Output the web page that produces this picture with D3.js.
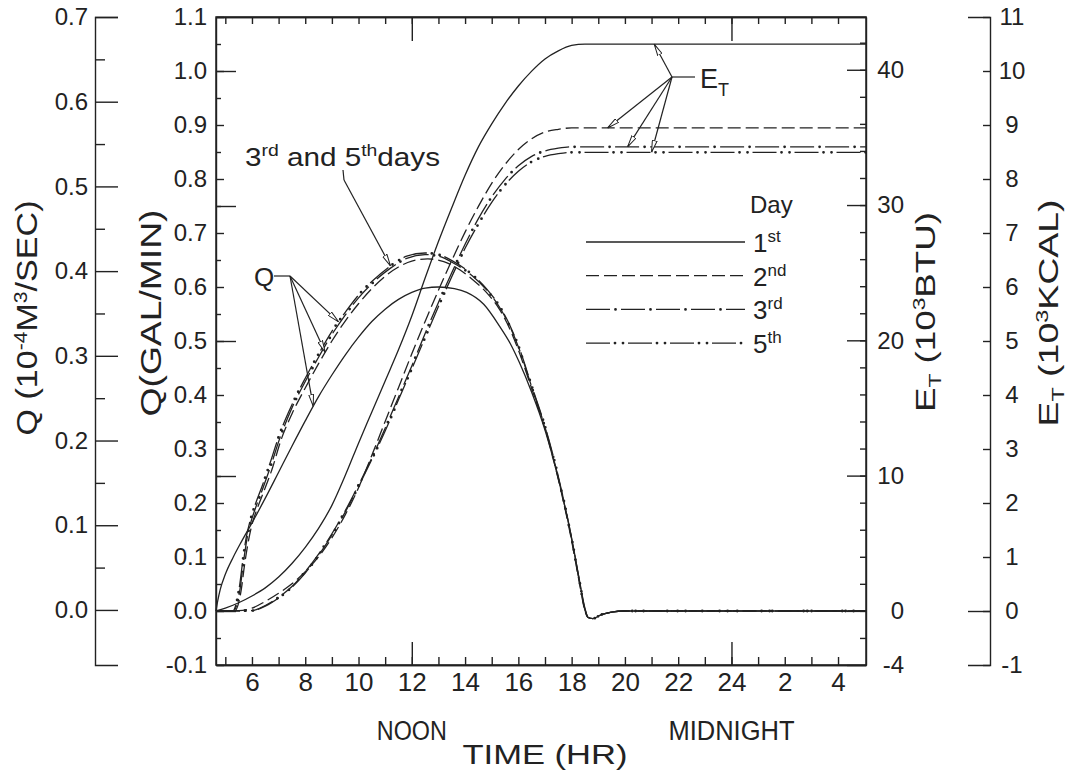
<!DOCTYPE html>
<html>
<head>
<meta charset="utf-8">
<script src="https://cdn.jsdelivr.net/npm/d3@7"></script>
<style>
body { margin: 0; background: #fff; }
text { font-family: "Liberation Sans", Arial, sans-serif; fill: #222; }
.axis path, .axis line { stroke: #222; stroke-width: 1.4; }
.axis text { font-family: "Liberation Sans", Arial, sans-serif; fill: #222; }
</style>
</head>
<body>
<svg id="chart" width="1070" height="771"></svg>
<script>
// flow rate Q in gal/min, [hour, value]
var q_day1 = [[4.65,0],[4.72,0.02],[4.81,0.04],[5.0,0.068],[5.3,0.1],[5.6,0.128],[6.0,0.163],[6.5,0.209],[7.0,0.257],[7.5,0.305],[8.0,0.352],[8.5,0.397],[9.0,0.437],[9.5,0.474],[10.0,0.507],[10.5,0.536],[11.0,0.559],[11.5,0.577],[12.0,0.59],[12.5,0.598],[13.0,0.6],[13.6,0.597],[14.06,0.59],[14.7,0.568],[15.3,0.527],[15.7,0.495],[16.04,0.46],[16.5,0.405],[17.0,0.335],[17.5,0.245],[18.0,0.135],[18.3,0.055],[18.5,0.005],[18.62,-0.012],[18.8,-0.014],[19.1,-0.007],[19.5,-0.002],[20.0,0],[29.05,0]];
var q_day2 = [[4.65,0],[5.35,0],[5.47,0.01],[5.6,0.04],[5.72,0.085],[5.85,0.125],[6.0,0.16],[6.2,0.19],[6.45,0.222],[6.75,0.262],[7.1,0.318],[7.5,0.365],[8.0,0.413],[8.5,0.458],[9.0,0.5],[9.5,0.537],[10.0,0.569],[10.5,0.597],[11.0,0.62],[11.5,0.637],[12.0,0.648],[12.6,0.652],[13.2,0.647],[13.8,0.632],[14.3,0.613],[14.8,0.59],[15.3,0.558],[15.7,0.52],[16.04,0.478],[16.5,0.412],[17.0,0.338],[17.5,0.244],[18.0,0.13],[18.3,0.05],[18.5,0.0],[18.62,-0.012],[18.8,-0.014],[19.1,-0.007],[19.5,-0.002],[20.0,0],[29.05,0]];
var q_day3 = [[4.65,0],[5.3,0],[5.42,0.01],[5.55,0.04],[5.68,0.09],[5.8,0.13],[5.95,0.163],[6.15,0.193],[6.4,0.226],[6.7,0.268],[7.06,0.322],[7.5,0.376],[8.0,0.425],[8.5,0.47],[9.0,0.512],[9.5,0.548],[10.0,0.58],[10.54,0.608],[11.2,0.635],[11.81,0.653],[12.5,0.66],[13.0,0.657],[13.54,0.645],[14.29,0.62],[14.8,0.595],[15.3,0.562],[15.7,0.525],[16.04,0.484],[16.5,0.415],[17.0,0.34],[17.5,0.247],[18.0,0.133],[18.3,0.052],[18.5,0.002],[18.62,-0.012],[18.8,-0.014],[19.1,-0.007],[19.5,-0.002],[20.0,0],[29.05,0]];
var q_day5 = [[4.65,0],[5.28,0],[5.4,0.012],[5.53,0.045],[5.66,0.095],[5.78,0.135],[5.93,0.167],[6.13,0.198],[6.38,0.231],[6.68,0.274],[7.04,0.328],[7.5,0.382],[8.0,0.431],[8.5,0.476],[9.0,0.518],[9.5,0.553],[10.0,0.585],[10.54,0.612],[11.2,0.639],[11.81,0.657],[12.5,0.663],[13.0,0.66],[13.54,0.648],[14.29,0.622],[14.8,0.597],[15.3,0.564],[15.7,0.527],[16.04,0.486],[16.5,0.417],[17.0,0.342],[17.5,0.249],[18.0,0.135],[18.3,0.054],[18.5,0.003],[18.62,-0.012],[18.8,-0.014],[19.1,-0.007],[19.5,-0.002],[20.0,0],[29.05,0]];

// cumulative energy E_T in 10^3 BTU, [hour, value]
var et_day1 = [[4.65,0],[5.0,0.2],[5.5,0.6],[6.0,1.1],[6.5,1.7],[7.0,2.5],[7.5,3.5],[8.0,4.7],[8.5,6.1],[9.0,7.8],[9.5,10.0],[10.0,12.4],[10.5,14.7],[11.0,17.0],[11.5,19.3],[12.0,21.8],[12.5,24.6],[13.0,27.3],[13.5,29.8],[14.0,32.2],[14.5,34.3],[15.0,36.0],[15.5,37.5],[16.0,38.8],[16.5,39.9],[17.0,40.8],[17.5,41.4],[18.0,41.8],[18.5,41.9],[29.05,41.9]];
var et_day2 = [[4.65,0],[5.5,0.02],[6.0,0.2],[6.5,0.7],[7.0,1.3],[7.5,2.0],[8.0,2.9],[8.5,4.0],[9.0,5.4],[9.5,7.1],[10.0,9.1],[10.5,11.5],[11.0,14.0],[11.5,16.5],[12.0,19.0],[12.5,21.4],[13.0,23.7],[13.5,25.9],[14.0,28.0],[14.5,29.9],[15.0,31.6],[15.5,33.0],[16.0,34.1],[16.5,34.9],[17.0,35.4],[17.5,35.6],[18.0,35.7],[29.05,35.7]];
var et_day3 = [[4.65,0],[6.0,0.02],[6.5,0.4],[7.0,1.0],[7.5,1.8],[8.0,2.9],[8.5,4.2],[9.0,5.7],[9.5,7.4],[10.0,9.3],[10.5,11.3],[11.0,13.5],[11.5,15.8],[12.0,18.1],[12.5,20.5],[13.0,22.8],[13.5,25.0],[14.0,27.1],[14.5,29.0],[15.0,30.6],[15.5,31.9],[16.0,32.9],[16.5,33.6],[17.0,34.0],[17.5,34.2],[18.0,34.3],[29.05,34.3]];
var et_day5 = [[4.65,0],[6.0,0.02],[6.5,0.35],[7.0,0.95],[7.5,1.75],[8.0,2.8],[8.5,4.1],[9.0,5.6],[9.5,7.3],[10.0,9.2],[10.5,11.2],[11.0,13.3],[11.5,15.6],[12.0,17.9],[12.5,20.2],[13.0,22.5],[13.5,24.7],[14.0,26.8],[14.5,28.6],[15.0,30.2],[15.5,31.5],[16.0,32.5],[16.5,33.2],[17.0,33.6],[17.5,33.8],[18.0,33.9],[29.05,33.9]];

// tick labels
var hour_ticks = d3.range(5, 29);
var hour_labels = d3.range(6, 29, 2);
var days = ['1', '2', '3', '5'];
var day_suffix = ['st', 'nd', 'rd', 'th'];

var svg = d3.select('#chart');

// scales: one time axis, four value axes
var x = d3.scaleLinear().domain([4.65, 29.05]).range([216, 866]);
var yQ = d3.scaleLinear().domain([-0.1, 1.1]).range([665, 17]);
var ySI = d3.scaleLinear().domain([-0.065, 0.7]).range([665, 17]);
var yBTU = d3.scaleLinear().domain([-4, 43.9]).range([665, 17]);
var yKCAL = d3.scaleLinear().domain([-1, 11]).range([665, 17]);

// line styles per day; dots drawn as a second dashed path with round caps
var styles = {
    '1': {dash: null},
    '2': {dash: '13,5'},
    '3': {dash: '24,11', dots: '0,35', off: -29.5},
    '5': {dash: '24,18', dots: '0,8,0,34', off: -29}
};

function drawStyled(g, d, style) {
    g.append('path').attr('d', d)
        .attr('fill', 'none').attr('stroke', '#222').attr('stroke-width', 1.3)
        .attr('stroke-dasharray', style.dash);
    if (style.dots) {
        g.append('path').attr('d', d)
            .attr('fill', 'none').attr('stroke', '#222').attr('stroke-width', 2.8)
            .attr('stroke-linecap', 'round')
            .attr('stroke-dasharray', style.dots)
            .attr('stroke-dashoffset', style.off);
    }
}
function fmt(d) { return d < 0 ? '-' + (-d) : String(d); }

// ---- outer left axis, 10^-4 m3/s
svg.append('g').attr('class', 'axis').attr('transform', 'translate(95,0)')
    .call(d3.axisLeft(ySI).tickValues(d3.range(0, 8).map(function(i){ return i/10; }))
        .tickSize(-23).tickPadding(7).tickFormat(function(d){ return d.toFixed(1); }))
    .selectAll('text').attr('font-size', 24);
svg.append('g').attr('class', 'axis').attr('transform', 'translate(95,0)')
    .call(d3.axisLeft(ySI).tickValues(d3.range(0, 7).map(function(i){ return i/10 + 0.05; }))
        .tickSize(-10).tickSizeOuter(0).tickFormat(''))
    .select('.domain').remove();

// ---- main left axis, gal/min
svg.append('g').attr('class', 'axis').attr('transform', 'translate(216,0)')
    .call(d3.axisLeft(yQ).tickValues(d3.range(-1, 12).map(function(i){ return i/10; }))
        .tickSize(-8).tickSizeOuter(0).tickPadding(9)
        .tickFormat(function(d){ return d.toFixed(1); }))
    .selectAll('text').attr('font-size', 24);
svg.append('g').attr('class', 'axis').attr('transform', 'translate(216,0)')
    .call(d3.axisLeft(yQ).tickValues(d3.range(-1, 11).map(function(i){ return i/10 + 0.05; }))
        .tickSize(-5).tickSizeOuter(0).tickFormat(''))
    .select('.domain').remove();
svg.append('g').attr('class', 'axis').attr('transform', 'translate(216,0)')
    .call(d3.axisLeft(yQ).tickValues([0, 0.25, 0.5, 0.75, 1.0])
        .tickSize(-20).tickSizeOuter(0).tickFormat(''))
    .select('.domain').remove();

// ---- right axis, 10^3 BTU
svg.append('g').attr('class', 'axis').attr('transform', 'translate(866,0)')
    .call(d3.axisRight(yBTU).tickValues(d3.range(-2, 44, 2))
        .tickSize(-6).tickSizeOuter(0).tickFormat(''))
    .select('.domain').remove();
svg.append('g').attr('class', 'axis').attr('transform', 'translate(866,0)')
    .call(d3.axisRight(yBTU).tickValues([-4, 0, 10, 20, 30, 40])
        .tickSize(-19).tickSizeOuter(0).tickPadding(38).tickFormat(fmt))
    .selectAll('text').attr('font-size', 24).attr('text-anchor', 'end');

// ---- far right axis, 10^3 kcal
svg.append('g').attr('class', 'axis').attr('transform', 'translate(990,0)')
    .call(d3.axisRight(yKCAL).tickValues(d3.range(-1, 12))
        .tickSize(-7).tickSizeOuter(-22).tickPadding(22).tickFormat(fmt))
    .selectAll('text').attr('font-size', 24).attr('text-anchor', 'middle');
svg.append('g').attr('class', 'axis').attr('transform', 'translate(990,0)')
    .call(d3.axisRight(yKCAL).tickValues([0]).tickSize(-22).tickSizeOuter(0).tickFormat(''))
    .select('.domain').remove();

// ---- time axes, top and bottom
svg.append('g').attr('class', 'axis').attr('transform', 'translate(0,17)')
    .call(d3.axisTop(x).tickValues(hour_ticks).tickSize(-7).tickSizeOuter(0).tickFormat(''));
svg.append('g').attr('class', 'axis').attr('transform', 'translate(0,17)')
    .call(d3.axisTop(x).tickValues([12, 24]).tickSize(-24).tickSizeOuter(0).tickFormat(''));
svg.append('g').attr('class', 'axis').attr('transform', 'translate(0,665)')
    .call(d3.axisBottom(x).tickValues(hour_ticks).tickSize(-8).tickSizeOuter(0).tickPadding(8)
        .tickFormat(function(d){ return hour_labels.indexOf(d) >= 0 ? (d > 24 ? d - 24 : d) : ''; }))
    .selectAll('text').attr('font-size', 26);
svg.append('g').attr('class', 'axis').attr('transform', 'translate(0,665)')
    .call(d3.axisBottom(x).tickValues([12, 24]).tickSize(-23).tickSizeOuter(0).tickFormat(''));

// plot frame
svg.append('rect').attr('x', 216).attr('y', 17)
    .attr('width', 866 - 216).attr('height', 665 - 17)
    .attr('fill', 'none').attr('stroke', '#222').attr('stroke-width', 1.5);

// ---- curves
var qLine = d3.line().x(function(d){ return x(d[0]); })
    .y(function(d){ return yQ(d[1]); }).curve(d3.curveMonotoneX);
var eLine = d3.line().x(function(d){ return x(d[0]); })
    .y(function(d){ return yBTU(d[1]); }).curve(d3.curveMonotoneX);

var q_series = {'1': q_day1, '2': q_day2, '3': q_day3, '5': q_day5};
var et_series = {'1': et_day1, '2': et_day2, '3': et_day3, '5': et_day5};
var curves = svg.append('g');
days.forEach(function(day) {
    drawStyled(curves, qLine(q_series[day]), styles[day]);
    drawStyled(curves, eLine(et_series[day]), styles[day]);
});

// ---- annotations with arrows
var defs = svg.append('defs');
defs.append('marker').attr('id', 'arrow')
    .attr('viewBox', '0 0 12 6').attr('refX', 12).attr('refY', 3)
    .attr('markerWidth', 12).attr('markerHeight', 6)
    .attr('markerUnits', 'userSpaceOnUse').attr('orient', 'auto')
    .append('path').attr('d', 'M0,0.6 L12,3 L0,5.4 Z')
    .attr('fill', '#fff').attr('stroke', '#222').attr('stroke-width', 1);

function valueAt(series, h) {
    var i = d3.bisector(function(d){ return d[0]; }).left(series, h);
    var a = series[i - 1], b = series[i];
    return a[1] + (b[1] - a[1]) * (h - a[0]) / (b[0] - a[0]);
}
function arrow(x1, y1, x2, y2) {
    svg.append('line').attr('x1', x1).attr('y1', y1).attr('x2', x2).attr('y2', y2)
        .attr('stroke', '#222').attr('stroke-width', 1.2).attr('marker-end', 'url(#arrow)');
}

// Q label and three arrows
svg.append('text').attr('x', 254).attr('y', 286).attr('font-size', 26).text('Q');
svg.append('line').attr('x1', 274).attr('y1', 276).attr('x2', 290).attr('y2', 276)
    .attr('stroke', '#222').attr('stroke-width', 1.2);
[[q_day5, 9.25], [q_day2, 8.75], [q_day1, 8.3]].forEach(function(t) {
    arrow(290, 276, x(t[1]), yQ(valueAt(t[0], t[1])));
});

// 3rd and 5th days label
var lab35 = svg.append('text').attr('x', 245).attr('y', 166).attr('font-size', 26)
    .attr('textLength', 195).attr('lengthAdjust', 'spacingAndGlyphs');
lab35.append('tspan').text('3');
lab35.append('tspan').attr('font-size', 17).attr('dy', -10).text('rd');
lab35.append('tspan').attr('dy', 10).text(' and 5');
lab35.append('tspan').attr('font-size', 17).attr('dy', -10).text('th');
lab35.append('tspan').attr('dy', 10).text('days');
svg.append('polyline').attr('points', '343,170 344,180')
    .attr('fill', 'none').attr('stroke', '#222').attr('stroke-width', 1.2);
arrow(344, 180, x(11.2), yQ(valueAt(q_day5, 11.2)));

// E_T label and four arrows
var labE = svg.append('text').attr('x', 700).attr('y', 88).attr('font-size', 27);
labE.append('tspan').text('E');
labE.append('tspan').attr('font-size', 18).attr('dy', 8).text('T');
svg.append('line').attr('x1', 672).attr('y1', 77).attr('x2', 695).attr('y2', 77)
    .attr('stroke', '#222').attr('stroke-width', 1.2);
[[et_day1, 21.1], [et_day2, 19.35], [et_day3, 20.1], [et_day5, 21.0]].forEach(function(t) {
    arrow(672, 77, x(t[1]), yBTU(valueAt(t[0], t[1])));
});

// ---- legend
svg.append('text').attr('x', 750).attr('y', 213).attr('font-size', 24).text('Day');
var legend = svg.append('g');
days.forEach(function(day, i) {
    var ly = 242 + i * 33.7;
    drawStyled(legend, 'M586,' + ly + 'H745', styles[day]);
    var t = legend.append('text').attr('x', 753).attr('y', ly + 10).attr('font-size', 26);
    t.append('tspan').text(day);
    t.append('tspan').attr('font-size', 17).attr('dy', -10).text(day_suffix[i]);
});

// ---- axis titles; parts are [text, shift] with shift -1 sup, +1 sub, 0 normal
function vtitle(cx, cy, len, size, parts) {
    var t = svg.append('text')
        .attr('transform', 'translate(' + cx + ',' + cy + ') rotate(-90)')
        .attr('text-anchor', 'middle').attr('font-size', size)
        .attr('textLength', len).attr('lengthAdjust', 'spacingAndGlyphs');
    var level = 0;
    parts.forEach(function(p) {
        var s = t.append('tspan').text(p[0]);
        var dy = (p[1] > 0 ? 0.22 : 0.36) * (p[1] - level) * size;
        if (level > 0) dy = -0.22 * size + (p[1] < 0 ? -0.36 * size : 0);
        if (dy) s.attr('dy', dy);
        if (p[1]) s.attr('font-size', size * 0.62);
        level = p[1];
    });
}
vtitle(37, 318, 235, 29, [['Q (10', 0], ['-4', -1], ['M', 0], ['3', -1], ['/SEC)', 0]]);
vtitle(161, 313, 207, 29, [['Q(GAL/MIN)', 0]]);
vtitle(935, 312, 200, 28, [['E', 0], ['T', 1], [' (10', 0], ['3', -1], ['BTU)', 0]]);
vtitle(1058, 313, 227, 28, [['E', 0], ['T', 1], [' (10', 0], ['3', -1], ['KCAL)', 0]]);

svg.append('text').attr('x', x(12)).attr('y', 740).attr('text-anchor', 'middle')
    .attr('font-size', 27).attr('textLength', 70).attr('lengthAdjust', 'spacingAndGlyphs').text('NOON');
svg.append('text').attr('x', x(24)).attr('y', 740).attr('text-anchor', 'middle')
    .attr('font-size', 27).attr('textLength', 126).attr('lengthAdjust', 'spacingAndGlyphs').text('MIDNIGHT');
svg.append('text').attr('x', 545).attr('y', 764).attr('text-anchor', 'middle')
    .attr('font-size', 28).attr('textLength', 165).attr('lengthAdjust', 'spacingAndGlyphs').text('TIME (HR)');
</script>
</body>
</html>
